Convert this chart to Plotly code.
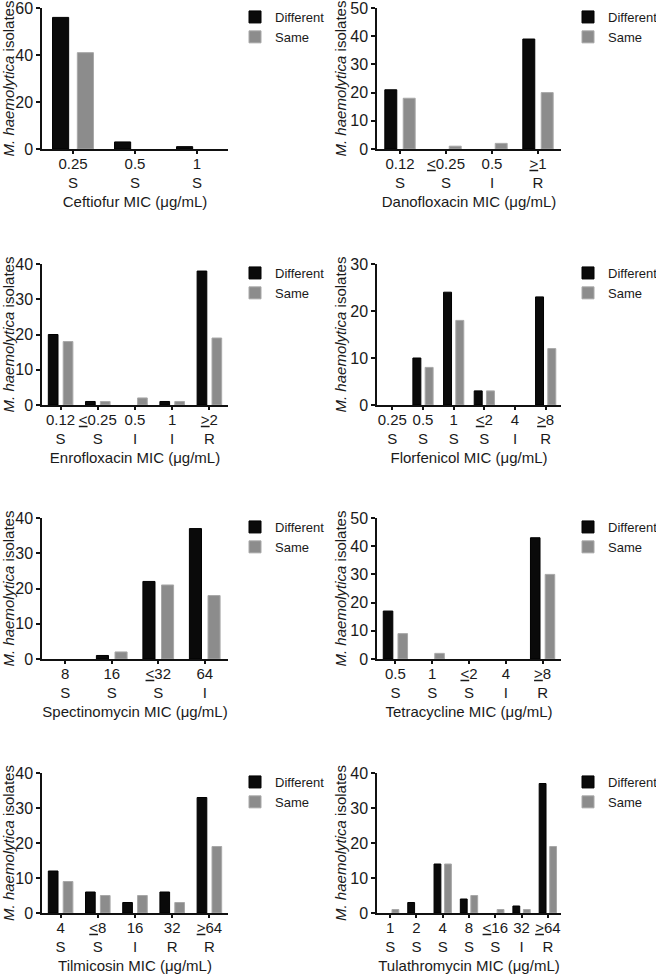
import plotly.graph_objects as go

# ---------------- data ----------------
ceftiofur_cats = ["0.25<br>S", "0.5<br>S", "1<br>S"]
ceftiofur_diff = [56, 3, 1]
ceftiofur_same = [41, 0, 0]

danofloxacin_cats = ["0.12<br>S", "<u>&lt;</u>0.25<br>S", "0.5<br>I", "<u>&gt;</u>1<br>R"]
danofloxacin_diff = [21, 0, 0, 39]
danofloxacin_same = [18, 1, 2, 20]

enrofloxacin_cats = ["0.12<br>S", "<u>&lt;</u>0.25<br>S", "0.5<br>I", "1<br>I", "<u>&gt;</u>2<br>R"]
enrofloxacin_diff = [20, 1, 0, 1, 38]
enrofloxacin_same = [18, 1, 2, 1, 19]

florfenicol_cats = ["0.25<br>S", "0.5<br>S", "1<br>S", "<u>&lt;</u>2<br>S", "4<br>I", "<u>&gt;</u>8<br>R"]
florfenicol_diff = [0, 10, 24, 3, 0, 23]
florfenicol_same = [0, 8, 18, 3, 0, 12]

spectinomycin_cats = ["8<br>S", "16<br>S", "<u>&lt;</u>32<br>S", "64<br>I"]
spectinomycin_diff = [0, 1, 22, 37]
spectinomycin_same = [0, 2, 21, 18]

tetracycline_cats = ["0.5<br>S", "1<br>S", "<u>&lt;</u>2<br>S", "4<br>I", "<u>&gt;</u>8<br>R"]
tetracycline_diff = [17, 0, 0, 0, 43]
tetracycline_same = [9, 2, 0, 0, 30]

tilmicosin_cats = ["4<br>S", "<u>&lt;</u>8<br>S", "16<br>I", "32<br>R", "<u>&gt;</u>64<br>R"]
tilmicosin_diff = [12, 6, 3, 6, 33]
tilmicosin_same = [9, 5, 5, 3, 19]

tulathromycin_cats = ["1<br>S", "2<br>S", "4<br>S", "8<br>S", "<u>&lt;</u>16<br>S", "32<br>I", "<u>&gt;</u>64<br>R"]
tulathromycin_diff = [0, 3, 14, 4, 0, 2, 37]
tulathromycin_same = [1, 0, 14, 5, 1, 1, 19]

titles = ["Ceftiofur MIC (μg/mL)", "Danofloxacin MIC (μg/mL)",
          "Enrofloxacin MIC (μg/mL)", "Florfenicol MIC (μg/mL)",
          "Spectinomycin MIC (μg/mL)", "Tetracycline MIC (μg/mL)",
          "Tilmicosin MIC (μg/mL)", "Tulathromycin MIC (μg/mL)"]
ymax = [60, 50, 40, 30, 40, 50, 40, 40]
ystep = [20, 10, 10, 10, 10, 10, 10, 10]

panels = [
    (ceftiofur_cats, ceftiofur_diff, ceftiofur_same),
    (danofloxacin_cats, danofloxacin_diff, danofloxacin_same),
    (enrofloxacin_cats, enrofloxacin_diff, enrofloxacin_same),
    (florfenicol_cats, florfenicol_diff, florfenicol_same),
    (spectinomycin_cats, spectinomycin_diff, spectinomycin_same),
    (tetracycline_cats, tetracycline_diff, tetracycline_same),
    (tilmicosin_cats, tilmicosin_diff, tilmicosin_same),
    (tulathromycin_cats, tulathromycin_diff, tulathromycin_same),
]

# ---------------- layout geometry (pixels) ----------------
W, H = 656, 974
col_px = [(42, 228), (377, 561)]
row_px = [(8, 149), (264, 405), (518, 659), (773, 913)]
legend_left_px = [235, 568]

FONT = "Liberation Sans, Arial, sans-serif"
TXT = "#1a1a1a"
BLACK = "#0a0a0a"
GRAY = "#8c8c8c"


def nz(vals):
    # zero-count bars are not drawn in the reference
    return [v if v != 0 else None for v in vals]


fig = go.Figure()
layout = dict(
    width=W, height=H,
    margin=dict(l=0, r=0, t=0, b=0, autoexpand=False),
    paper_bgcolor="white", plot_bgcolor="white",
    barmode="group", bargap=0.2, bargroupgap=0.35,
    font=dict(family=FONT, size=15, color=TXT),
    showlegend=True,
)

for i, (cats, diff, same) in enumerate(panels):
    r, c = divmod(i, 2)
    n = i + 1
    xa = "x" if n == 1 else f"x{n}"
    ya = "y" if n == 1 else f"y{n}"
    lg = "legend" if n == 1 else f"legend{n}"
    idx = list(range(len(cats)))
    fig.add_trace(go.Bar(x=idx, y=nz(diff), name="Different", xaxis=xa, yaxis=ya,
                         marker=dict(color=BLACK, line=dict(color="#000000", width=1)),
                         legend=lg))
    fig.add_trace(go.Bar(x=idx, y=nz(same), name="Same", xaxis=xa, yaxis=ya,
                         marker=dict(color=GRAY, line=dict(color="#a8a8a8", width=1)),
                         legend=lg))
    x0, x1 = col_px[c]
    t, b = row_px[r]
    xkey = "xaxis" if n == 1 else f"xaxis{n}"
    ykey = "yaxis" if n == 1 else f"yaxis{n}"
    layout[xkey] = dict(
        domain=[x0 / W, x1 / W], anchor=ya,
        range=[-0.5, len(cats) - 0.5],
        tickmode="array", tickvals=idx, ticktext=cats,
        showline=True, linecolor="#111111", linewidth=1.5,
        ticks="outside", ticklen=3, tickwidth=1.5, tickcolor="#111111",
        ticklabelstandoff=-3,
        showgrid=False, zeroline=False,
        tickfont=dict(size=15),
        title=dict(text=titles[i], font=dict(size=15), standoff=6),
    )
    layout[ykey] = dict(
        domain=[1 - b / H, 1 - t / H], anchor=xa,
        range=[0, ymax[i]],
        tickmode="linear", tick0=0, dtick=ystep[i],
        showline=True, linecolor="#111111", linewidth=1.5,
        ticks="outside", ticklen=4, tickwidth=1.5, tickcolor="#111111",
        ticklabeloverflow="allow",
        showgrid=False, zeroline=False,
        tickfont=dict(size=16),
        title=dict(text="<i>M. haemolytica</i> isolates", font=dict(size=15), standoff=0),
    )
    layout[lg] = dict(
        x=legend_left_px[c] / W, xanchor="left",
        y=1 - max(t - 6, 1) / H, yanchor="top",
        bgcolor="rgba(0,0,0,0)", borderwidth=0,
        font=dict(size=13, color=TXT),
        traceorder="normal",
    )

fig.update_layout(**layout)
fig.write_html("out.html", config={"displayModeBar": False},
               post_script="document.body.style.margin='0';")
